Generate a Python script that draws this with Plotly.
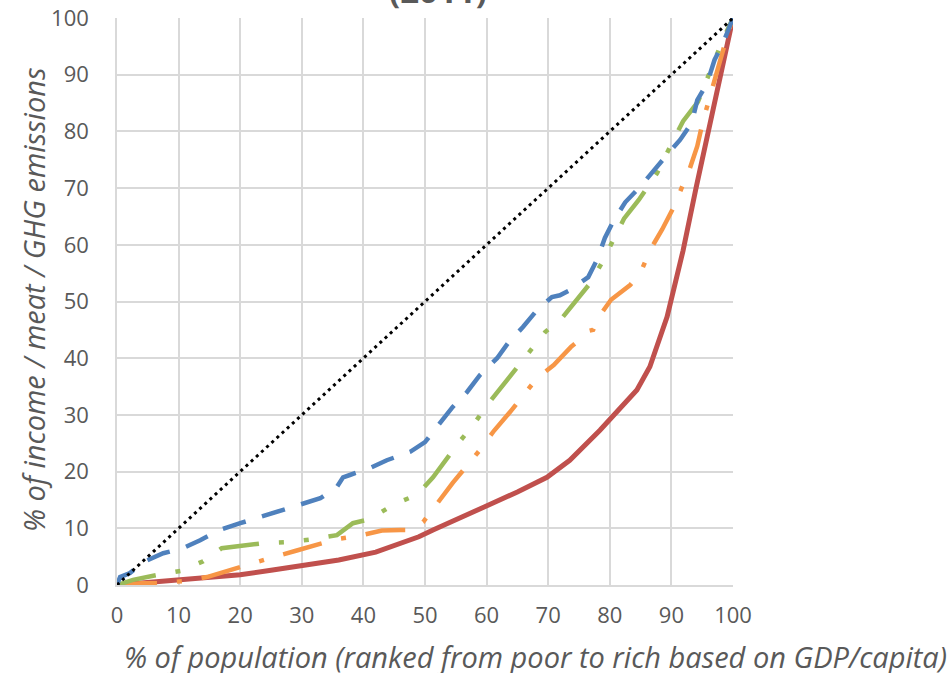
import plotly.graph_objects as go

# Equality line
eq_x = [0, 100]
eq_y = [0, 100]

# Red solid curve
red_x = [0, 5, 10, 15, 20, 25, 30, 36, 42, 46, 49, 51.3, 55, 59.7, 65, 69.8, 73.5, 78.4, 84.4, 86.5, 89.3, 90, 91.9, 94, 96, 98, 100]
red_y = [0, 0.4, 0.9, 1.3, 1.8, 2.6, 3.5, 4.4, 5.8, 7.4, 8.5, 9.7, 11.6, 13.8, 16.4, 19, 22, 27.3, 34.4, 38.5, 47.3, 50.3, 59, 70, 80, 90.5, 100]

# Blue dashed curve
blue_x = [0, 0.5, 2.1, 4.2, 7.5, 10.7, 13.5, 16.7, 20, 23.2, 26.5, 29.7, 33, 35.7, 36.7, 37.8, 41, 43.8, 47.6, 50, 52.4, 54.5, 56.8, 58.9, 61.7, 63.5, 65.9, 68.2, 70.6, 71.9, 73.5, 76.5, 77.9, 79.2, 80.5, 82.5, 84.9, 86.8, 89, 91.4, 93.3, 94.2, 95.8, 97, 98.4, 100]
blue_y = [0, 1.4, 2.1, 4, 5.6, 6.5, 7.9, 9.7, 10.9, 12, 13.2, 14.1, 15.3, 17.3, 19, 19.4, 20.6, 22, 23.5, 25.2, 28.5, 31.4, 34, 37, 40, 42.7, 45.5, 48.5, 50.8, 51.1, 52, 54.3, 57.3, 61.2, 64, 67.5, 70.2, 72.8, 75.5, 78.5, 81.5, 85.5, 88.5, 92.6, 95.6, 100]

# Green long-dash-dot-dot curve
green_x = [0, 2.6, 6.7, 10.4, 14, 17, 24, 28, 32, 35.7, 38.3, 40.6, 41.9, 45.1, 48.7, 51.3, 55.4, 58, 60.2, 62.7, 67, 69.5, 72.4, 74.8, 76.8, 78.7, 80.5, 82.3, 84.7, 87.7, 90.1, 91.9, 94.3, 96.8, 98.4, 100]
green_y = [0, 0.9, 1.8, 2.5, 4.2, 6.5, 7.4, 7.6, 8.1, 8.8, 10.9, 11.5, 12.2, 14.3, 15.9, 19, 25, 28.5, 31.9, 35.3, 41.4, 44.6, 47.3, 50.6, 53.2, 56.8, 60.7, 64.6, 67.9, 72.7, 78, 81.8, 85.2, 92, 96.3, 100]

# Orange dash-dot curve
orange_x = [0, 4, 7, 10.7, 14.6, 21.3, 25, 28.9, 35.7, 39.4, 43, 46, 47.6, 49.7, 52, 54.5, 58.9, 61.2, 63.8, 68.2, 70.9, 73.7, 75.5, 76.5, 77.3, 78.1, 80.2, 83.3, 84.4, 85.2, 86.5, 88.5, 90.3, 93, 94.2, 95.1, 97, 98, 99.2, 100]
orange_y = [0, 0.3, 0.3, 0.7, 1.4, 3.7, 4.8, 6, 8.1, 8.7, 9.6, 9.7, 9.7, 11.1, 14.4, 18, 23.8, 27.2, 30.5, 36.5, 38.8, 42, 43.6, 44.8, 45, 47.1, 50.3, 52.9, 54.3, 55.6, 59, 62.7, 66.5, 73.5, 77.4, 81.7, 89, 93.1, 97.4, 100]

ticks = [0, 10, 20, 30, 40, 50, 60, 70, 80, 90, 100]

FONT = "Open Sans"
GRAY = "#595959"

fig = go.Figure()
fig.add_trace(go.Scatter(x=red_x, y=red_y, mode="lines", name="red",
                         line=dict(color="#C0504D", width=5)))
fig.add_trace(go.Scatter(x=orange_x, y=orange_y, mode="lines", name="orange",
                         line=dict(color="#F79646", width=4.5, dash="40px,20px,5px,20px")))
fig.add_trace(go.Scatter(x=green_x, y=green_y, mode="lines", name="green",
                         line=dict(color="#9BBB59", width=4.5, dash="40px,20px,5px,20px,5px,20px")))
fig.add_trace(go.Scatter(x=blue_x, y=blue_y, mode="lines", name="blue",
                         line=dict(color="#4F81BD", width=4.5, dash="24px,17px")))
fig.add_trace(go.Scatter(x=eq_x, y=eq_y, mode="lines", name="equality",
                         line=dict(color="black", width=3, dash="3px,4px")))

axis_common = dict(range=[0, 100], tickvals=ticks, ticktext=[str(t) for t in ticks],
                   showgrid=True, gridcolor="#d9d9d9", gridwidth=1.5,
                   zeroline=False, showline=True, linecolor="#d9d9d9", linewidth=1.5,
                   tickfont=dict(family=FONT, size=22, color=GRAY), ticks="",
                   fixedrange=True, automargin=False)

fig.update_layout(
    width=952, height=673,
    margin=dict(l=117, r=219, t=18, b=88, autoexpand=False),
    plot_bgcolor="white", paper_bgcolor="white",
    showlegend=False,
    xaxis=dict(**axis_common, ticklabelstandoff=10),
    yaxis=dict(**axis_common, ticklabelstandoff=22),
    annotations=[
        dict(text="(2011)", xref="paper", yref="paper", x=(438 - 117) / 616, y=1.0 + 3 / 567,
             xanchor="center", yanchor="bottom", showarrow=False,
             font=dict(family=FONT, size=33, color=GRAY, weight="bold")),
        dict(text="% of income / meat / GHG emissions", xref="paper", yref="paper",
             x=(33 - 117) / 616, y=(585 - 300) / 567, xanchor="center", yanchor="middle",
             textangle=-90, showarrow=False,
             font=dict(family=FONT, size=29, color=GRAY, style="italic")),
        dict(text="% of population (ranked from poor to rich based on GDP/capita)",
             xref="paper", yref="paper", x=(535 - 117) / 616, y=-(656 - 585) / 567,
             xanchor="center", yanchor="middle", showarrow=False,
             font=dict(family=FONT, size=29, color=GRAY, style="italic")),
    ],
)

fig.write_html("out.html", config={"displayModeBar": False},
               post_script="document.body.style.margin='0';document.body.style.overflow='hidden';")
